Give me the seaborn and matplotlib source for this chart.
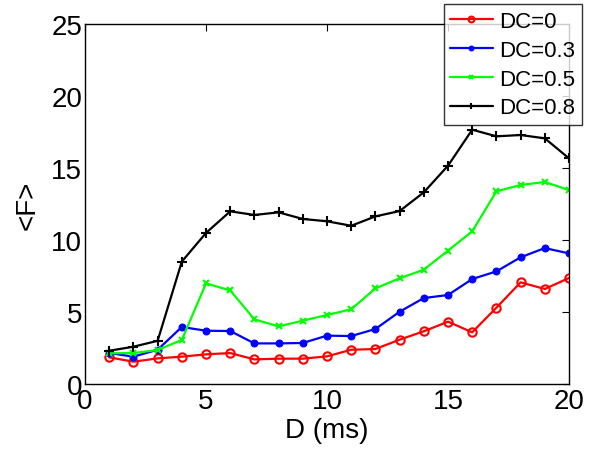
import numpy as np
import matplotlib
matplotlib.use('Agg')
import matplotlib.pyplot as plt
import seaborn as sns

# data
D = list(range(1, 21))
dc_0 = [1.85, 1.55, 1.78, 1.90, 2.06, 2.15, 1.71, 1.76, 1.76, 1.92,
        2.38, 2.43, 3.08, 3.66, 4.33, 3.59, 5.30, 7.06, 6.60, 7.36]
dc_03 = [2.15, 1.90, 2.38, 3.96, 3.70, 3.68, 2.82, 2.82, 2.85, 3.36,
         3.33, 3.82, 5.02, 5.97, 6.18, 7.29, 7.82, 8.80, 9.44, 9.07]
dc_05 = [2.13, 2.15, 2.36, 3.06, 6.99, 6.50, 4.49, 4.00, 4.40, 4.79,
         5.19, 6.64, 7.34, 7.94, 9.26, 10.60, 13.38, 13.82, 14.03, 13.47]
dc_08 = [2.31, 2.59, 3.00, 8.50, 10.49, 11.99, 11.74, 11.92, 11.46, 11.30,
         10.99, 11.64, 12.01, 13.31, 15.16, 17.66, 17.20, 17.29, 17.06, 15.67]

labels = ['DC=0', 'DC=0.3', 'DC=0.5', 'DC=0.8']
series = [dc_0, dc_03, dc_05, dc_08]

sns.set_style('white')
plt.rcParams['font.family'] = ['Liberation Sans', 'DejaVu Sans']
plt.rcParams['text.color'] = 'black'
plt.rcParams['axes.labelcolor'] = 'black'
plt.rcParams['xtick.color'] = 'black'
plt.rcParams['ytick.color'] = 'black'

fig = plt.figure(figsize=(5.95, 4.52), dpi=100)
ax = fig.add_axes([0.1429, 0.1482, 0.8134, 0.7965])

styles = [
    dict(color='red', marker='o', markerfacecolor='none', markeredgecolor='red',
         markersize=6, markeredgewidth=1.5),
    dict(color='blue', marker='o', markerfacecolor='blue', markeredgecolor='blue',
         markersize=5),
    dict(color='lime', marker='x', markeredgecolor='lime', markersize=5,
         markeredgewidth=1.5),
    dict(color='black', marker='+', markeredgecolor='black', markersize=7,
         markeredgewidth=1.5),
]

for vals, lab, st in zip(series, labels, styles):
    sns.lineplot(x=D, y=vals, ax=ax, label=lab, linewidth=1.6, **st)

ax.set_xlim(0, 20)
ax.set_ylim(0, 25)
ax.set_xticks([0, 5, 10, 15, 20])
ax.set_yticks([0, 5, 10, 15, 20, 25])
ax.tick_params(direction='in', length=5, width=0.8, labelsize=20,
               top=True, right=True, color='black', labelcolor='black')
ax.tick_params(axis='y', pad=2)
ax.tick_params(axis='x', pad=3)
for s in ax.spines.values():
    s.set_visible(True)
    s.set_color('black')
    s.set_linewidth(1.0)

ax.set_xlabel('D (ms)', fontsize=20, labelpad=2)
ax.set_ylabel('<F>', fontsize=20, labelpad=8)

leg = ax.legend(loc='upper right', bbox_to_anchor=(0.978, 0.988),
                bbox_transform=fig.transFigure, borderaxespad=0,
                fontsize=16, frameon=True, fancybox=False,
                handlelength=1.9, handletextpad=0.3, labelspacing=0.35,
                borderpad=0.3, markerscale=0.7)
leg.get_frame().set_edgecolor('black')
leg.get_frame().set_linewidth(1.0)
for t in leg.get_texts():
    t.set_color('black')

fig.savefig('out.png', dpi=100)
